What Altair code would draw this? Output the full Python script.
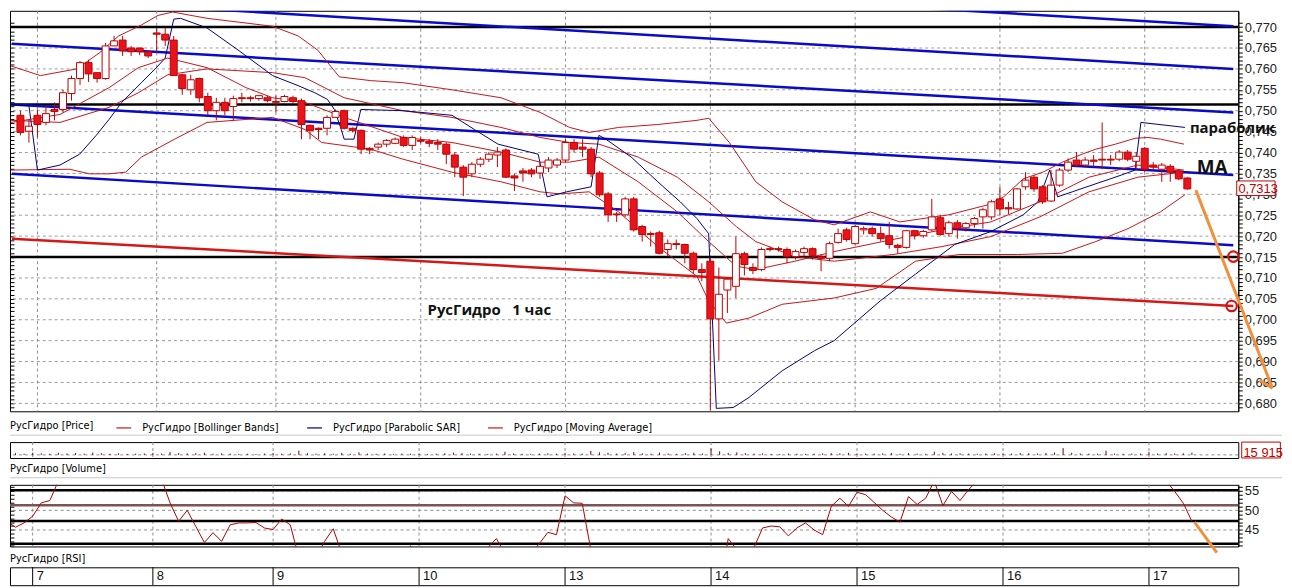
import altair as alt
import pandas as pd

# ---------------- data ----------------
opens = [.7489, .7451, .7489, .7472, .7503, .7503, .7541, .7577, .7615, .7591,
         .7577, .7655, .7669, .7650, .7650, .7641, .7686, .7683, .7669, .7586,
         .7550, .7577, .7534, .7500, .7520, .7510, .7531, .7531, .7529, .7531,
         .7520, .7522, .7531, .7524, .7465, .7458, .7458, .7484, .7500, .7458,
         .7453, .7410, .7413, .7420, .7422, .7436, .7417, .7429, .7427, .7424,
         .7420, .7394, .7365, .7349, .7372, .7384, .7394, .7406, .7344, .7356,
         .7358, .7351, .7363, .7370, .7382, .7424, .7413, .7408, .7351, .7301,
         .7253, .7251, .7289, .7223, .7206, .7208, .7168, .7182, .7180, .7159,
         .7120, .7140, .7002, .7071, .7080, .7158, .7125, .7120, .7170, .7170,
         .7168, .7151, .7161, .7170, .7151, .7147, .7185, .7215, .7182, .7215,
         .7218, .7206, .7201, .7178, .7173, .7213, .7201, .7215, .7244, .7206,
         .7232, .7220, .7230, .7246, .7246, .7289, .7268, .7265, .7318, .7341,
         .7318, .7284, .7322, .7358, .7382, .7370, .7382, .7384, .7384, .7384,
         .7401, .7379, .7410, .7370, .7360, .7367, .7356, .7339]
highs = [.7500, .7479, .7503, .7512, .7520, .7550, .7584, .7619, .7622, .7591,
         .7662, .7679, .7679, .7655, .7650, .7643, .7698, .7698, .7679, .7588,
         .7586, .7579, .7543, .7531, .7531, .7536, .7543, .7536, .7538, .7536,
         .7536, .7538, .7536, .7529, .7467, .7460, .7489, .7503, .7503, .7460,
         .7455, .7413, .7424, .7432, .7436, .7441, .7441, .7436, .7432, .7432,
         .7424, .7401, .7370, .7377, .7389, .7401, .7413, .7410, .7349, .7363,
         .7363, .7377, .7389, .7387, .7432, .7432, .7432, .7413, .7356, .7306,
         .7258, .7294, .7294, .7227, .7211, .7213, .7192, .7192, .7182, .7163,
         .7135, .7149, .7125, .7099, .7199, .7163, .7135, .7173, .7175, .7175,
         .7173, .7168, .7175, .7173, .7156, .7187, .7218, .7220, .7227, .7223,
         .7223, .7223, .7234, .7182, .7215, .7215, .7215, .7289, .7251, .7237,
         .7239, .7234, .7246, .7268, .7287, .7318, .7282, .7315, .7353, .7346,
         .7322, .7358, .7363, .7386, .7401, .7389, .7394, .7472, .7394, .7406,
         .7406, .7401, .7413, .7377, .7375, .7372, .7360, .7341]
lows = [.7441, .7424, .7436, .7465, .7477, .7496, .7524, .7562, .7569, .7567,
        .7574, .7655, .7631, .7631, .7633, .7626, .7638, .7655, .7584, .7538,
        .7538, .7520, .7489, .7477, .7489, .7477, .7520, .7522, .7524, .7520,
        .7496, .7520, .7517, .7432, .7432, .7432, .7441, .7484, .7455, .7448,
        .7396, .7396, .7406, .7413, .7420, .7413, .7406, .7422, .7413, .7406,
        .7372, .7341, .7296, .7341, .7365, .7377, .7365, .7339, .7308, .7330,
        .7341, .7337, .7353, .7363, .7377, .7401, .7389, .7341, .7294, .7234,
        .7234, .7246, .7211, .7187, .7175, .7156, .7151, .7168, .7135, .7111,
        .7092, .6783, .6902, .7016, .7052, .7106, .7109, .7116, .7163, .7163,
        .7135, .7144, .7151, .7144, .7116, .7140, .7182, .7187, .7180, .7204,
        .7199, .7187, .7170, .7159, .7170, .7192, .7196, .7211, .7201, .7199,
        .7194, .7211, .7220, .7218, .7239, .7251, .7253, .7263, .7311, .7306,
        .7277, .7282, .7318, .7353, .7365, .7365, .7365, .7360, .7370, .7379,
        .7379, .7358, .7353, .7358, .7330, .7330, .7334, .7311]
closes = [.7448, .7463, .7467, .7493, .7498, .7543, .7577, .7615, .7588, .7577,
          .7655, .7667, .7643, .7641, .7641, .7631, .7683, .7669, .7584, .7553,
          .7574, .7531, .7500, .7520, .7500, .7529, .7529, .7529, .7536, .7524,
          .7522, .7534, .7522, .7467, .7453, .7455, .7484, .7498, .7458, .7453,
          .7408, .7406, .7420, .7429, .7432, .7417, .7436, .7427, .7422, .7420,
          .7396, .7365, .7341, .7372, .7384, .7396, .7401, .7341, .7339, .7351,
          .7349, .7367, .7382, .7382, .7424, .7408, .7408, .7349, .7299, .7251,
          .7251, .7289, .7215, .7204, .7204, .7159, .7182, .7180, .7159, .7120,
          .7113, .7002, .7061, .7097, .7158, .7132, .7118, .7168, .7168, .7168,
          .7151, .7163, .7170, .7154, .7147, .7182, .7206, .7192, .7223, .7218,
          .7206, .7194, .7180, .7173, .7213, .7201, .7211, .7246, .7204, .7232,
          .7218, .7230, .7242, .7263, .7282, .7265, .7265, .7313, .7334, .7313,
          .7282, .7322, .7358, .7377, .7370, .7382, .7379, .7382, .7382, .7401,
          .7384, .7391, .7360, .7365, .7370, .7353, .7337, .7313]

volumes = [12000, 9000, 15000, 11000, 8000, 14000, 10000, 13000, 9000, 16000,
           12000, 8000, 11000, 7000, 9000, 10000, 14000, 9000, 20000, 13000,
           10000, 12000, 15000, 8000, 11000, 9000, 7000, 8000, 6000, 9000,
           13000, 8000, 10000, 30000, 12000, 9000, 11000, 8000, 14000, 7000,
           18000, 9000, 8000, 10000, 7000, 9000, 8000, 10000, 7000, 8000,
           12000, 16000, 13000, 9000, 8000, 7000, 9000, 22000, 10000, 8000,
           7000, 9000, 11000, 8000, 14000, 10000, 9000, 28000, 18000, 15000,
           9000, 12000, 20000, 11000, 9000, 16000, 10000, 8000, 13000, 15000,
           9000, 45000, 25000, 14000, 18000, 12000, 9000, 11000, 7000, 6000,
           10000, 8000, 7000, 9000, 10000, 12000, 11000, 14000, 10000, 8000,
           9000, 11000, 13000, 8000, 12000, 9000, 8000, 22000, 14000, 10000,
           11000, 9000, 8000, 10000, 12000, 11000, 9000, 13000, 12000, 10000,
           14000, 16000, 48000, 15000, 10000, 9000, 8000, 30000, 9000, 8000,
           10000, 9000, 20000, 9000, 12000, 10000, 11000, 15915]

rsi_first = -1
rsi_values = [47.2, 45.7, 46.8, 48.5, 51.9, 52.5, 57.5, 60, 62, 61, 63, 65, 66, 64, 63, 62, 61, 63, 58, 51.9,
              47.2, 50.0, 45.9, 41.8, 44.3, 42.1, 46.3, 46.8, 46.8, 46.9, 45.5, 45.1, 47.8, 46.3, 38, 37, 38, 42.1, 45.3, 39,
              36, 33, 34, 36, 37, 38, 36, 41.0, 38, 37, 36, 34, 32, 31, 35, 38, 40.5, 42.8, 39, 37,
              38, 39, 41.5, 44.4, 43.8, 53.7, 51.9, 51.8, 40, 34, 30, 31, 34, 30, 29, 29, 27, 30, 30, 28,
              26, 26, 22, 30, 42.8, 40.0, 39.5, 40.5, 45.5, 46.0, 45.8, 43.5, 45.5, 46.8, 45.0, 43.8, 51.0, 53.1, 51.0, 54.6,
              54.0, 52.0, 50.0, 48.3, 47.0, 53.5, 51.5, 53.1, 57.5, 51.2, 54.8, 52.5, 55.3, 57.5, 60, 59, 58, 58, 61, 63,
              58, 56.7, 60, 64, 66, 65, 66, 65, 65, 66, 67, 66, 67, 62, 60, 57.5, 54.8, 51.8, 47.2]

bb_upper = [(-1.1, .7607), (2.35, .7584), (6.6, .7600), (9.25, .7638), (11.55, .7679), (14.2, .7705),
            (16.15, .7728), (17.88, .7736), (21.91, .7721), (29.61, .7702), (32.6, .7679), (34.91, .7645),
            (36.29, .7610), (37.44, .7581), (41.12, .7572), (44.92, .7567), (50.67, .7550), (56.42, .7531),
            (61.02, .7496), (64.47, .7460), (66.77, .7448), (70.23, .7460), (74.83, .7467), (79.43, .7477),
            (80.81, .7482), (83.23, .7424), (85.19, .7365), (86.33, .7330), (89.44, .7282), (93.23, .7239),
            (95.54, .7227), (99.79, .7258), (103.24, .7234), (109.0, .7251), (113.6, .7275), (115.44, .7294),
            (117.74, .7337), (120.04, .7353), (122.34, .7377), (124.64, .7396), (126.25, .7408), (128.56, .7420),
            (130.86, .7434), (132.36, .7436), (133.85, .7432), (136.61, .7420)]
bb_middle = [(-1.1, .7477), (4.65, .7472), (10.4, .7508), (13.85, .7543), (17.3, .7586), (21.91, .7600),
             (29.61, .7591), (33.41, .7579), (38.01, .7531), (44.92, .7500), (50.67, .7484), (56.42, .7460),
             (61.02, .7436), (64.47, .7424), (67.92, .7420), (72.53, .7389), (77.13, .7341), (80.81, .7282),
             (84.04, .7223), (86.33, .7187), (90.93, .7151), (95.54, .7140), (102.44, .7156), (108.19, .7175),
             (113.94, .7199), (119.69, .7246), (125.45, .7306), (131.2, .7341), (136.61, .7353)]
bb_lower = [(-1.1, .7358), (5.8, .7360), (8.1, .7349), (10.4, .7349), (12.36, .7353), (14.2, .7389),
            (18.11, .7432), (21.91, .7472), (29.61, .7484), (33.41, .7455), (35.36, .7424), (41.12, .7408),
            (44.92, .7384), (50.67, .7353), (56.42, .7330), (61.02, .7306), (63.32, .7301), (66.77, .7306),
            (70.23, .7258), (74.83, .7175), (79.43, .7104), (80.81, .7045), (82.88, .6992), (85.53, .7004),
            (89.44, .7037), (95.54, .7052), (100.48, .7075), (105.08, .7140), (110.15, .7156), (117.05, .7156),
            (122.34, .7159), (126.25, .7187), (130.05, .7218), (133.85, .7258), (136.72, .7299)]
moving_avg = [(-1.1, .7472), (4.65, .7491), (10.4, .7555), (13.85, .7603), (17.3, .7626), (21.91, .7603),
              (26.51, .7555), (29.61, .7531), (33.41, .7520), (38.01, .7484), (44.92, .7436), (50.67, .7424),
              (56.42, .7401), (61.02, .7377), (64.47, .7377), (67.92, .7389), (72.53, .7330), (77.13, .7258),
              (80.81, .7187), (84.04, .7128), (86.33, .7120), (90.93, .7140), (95.54, .7163), (102.44, .7192),
              (108.19, .7215), (113.94, .7234), (119.69, .7282), (125.45, .7341), (131.2, .7370), (136.61, .7358)]
sar = [(-1.1, .7515), (1.0, .7512), (2.0, .7358), (4.65, .7370), (6.95, .7396), (8.9, .7441), (10.4, .7479),
       (11.9, .7520), (14.2, .7567), (16.15, .7607), (17.0, .7626), (18.0, .7719), (18.8, .7721), (21.91, .7698),
       (25.7, .7643), (29.61, .7584), (32.6, .7560), (34.56, .7543), (36.05, .7527), (36.86, .7503), (37.67, .7455),
       (38.01, .7432), (39.16, .7432), (39.97, .7503), (44.92, .7500), (50.67, .7489), (53.31, .7455), (56.08, .7420),
       (60.79, .7396), (61.83, .7294), (64.13, .7306), (67.0, .7318), (67.92, .7441), (68.73, .7432), (71.72, .7389),
       (74.83, .7330), (77.47, .7282), (79.43, .7242), (80.8, .7206), (81.7, .6788), (83.69, .6790), (85.53, .6814),
       (89.44, .6878), (93.23, .6926), (95.54, .6950), (100.94, .7045), (105.08, .7109), (109.69, .7180),
       (113.94, .7211), (117.74, .7251), (119.46, .7282), (120.84, .7358), (121.77, .7294), (123.49, .7306),
       (129.25, .7346), (130.86, .7358), (131.55, .7472), (136.72, .7460)]

# trend lines drawn on the chart: (name, start index, start price, end index, end price)
blue_lines = [("A", 21.6, .7743, 142.4, .7600), ("B", 100.0, .7752, 142.4, .7702),
              ("C", -1.0, .7660, 142.4, .7496), ("D", -1.0, .7515, 142.4, .7346),
              ("E", -1.0, .7349, 142.4, .7178)]
red_lines = [("R", -1.0, .7194, 142.4, .7033)]
black_levels = [0.770, 0.7515, 0.715]
price_grid = [0.680, 0.685, 0.690, 0.695, 0.700, 0.705, 0.710, 0.715, 0.720, 0.725,
              0.730, 0.735, 0.740, 0.745, 0.750, 0.755, 0.760, 0.765, 0.770]
price_ticks = [round(0.679 + 0.001 * k, 3) for k in range(93)]

day_labels = ["7", "8", "9", "10", "13", "14", "15", "16", "17"]
day_starts = [2, 16, 30, 47, 64, 81, 98, 115, 132]

rsi_lines_black = [55.1, 47.3, 41.5]
rsi_line_brown = [51.3]
rsi_grid = [45, 50, 55]
rsi_ticks = list(range(41, 57))

last_price = 0.7313
last_volume = 15915

# ---------------- styling ----------------
FONT = "Liberation Sans, Arial, sans-serif"
NARROW = "Liberation Sans Narrow, Arial Narrow, DejaVu Sans Condensed, sans-serif"
BOLD = "Open Sans, Noto Sans, sans-serif"
RED = "#e8141c"
DARKRED = "#c00000"
INDRED = "#c4161c"
NAVY = "#00007a"
BLUE = "#0a0ac8"
ORANGE = "#f0903a"
SEP = "#c8c8c8"

W = 1236
HP = 403
XMIN, XMAX = -0.64, 142.4
XS = alt.Scale(domain=[XMIN, XMAX], nice=False, zero=False)
YS = alt.Scale(domain=[0.6781, 0.7739], nice=False, zero=False)


def X(field="i"):
    return alt.X(f"{field}:Q", scale=XS, axis=None)


def Y(field):
    return alt.Y(f"{field}:Q", scale=YS, axis=None)


candles = pd.DataFrame({"i": list(range(len(opens))), "open": opens, "high": highs,
                        "low": lows, "close": closes})
candles["dir"] = ["up" if c >= o else "down" for o, c in zip(opens, closes)]

ind_rows = []
for part, series, pts in [("upper", "РусГидро [Bollinger Bands]", bb_upper),
                          ("middle", "РусГидро [Bollinger Bands]", bb_middle),
                          ("lower", "РусГидро [Bollinger Bands]", bb_lower),
                          ("sar", "РусГидро [Parabolic SAR]", sar),
                          ("ma", "РусГидро [Moving Average]", moving_avg)]:
    for k, (xi, p) in enumerate(pts):
        ind_rows.append({"part": part, "series": series, "i": xi, "p": p, "order": k})
ind_df = pd.DataFrame(ind_rows)
legend_names = ["РусГидро [Bollinger Bands]", "РусГидро [Parabolic SAR]", "РусГидро [Moving Average]"]


def seg_df(lines):
    rows = []
    for name, x0, y0, x1, y1 in lines:
        rows.append({"name": name, "i": x0, "p": y0})
        rows.append({"name": name, "i": x1, "p": y1})
    return pd.DataFrame(rows)


left_axis = alt.Axis(orient="left", values=price_ticks, labels=False, tickSize=4, domain=False,
                     offset=-4, grid=False, title=None, tickColor="black")
right_axis = alt.Axis(orient="right", values=price_ticks, tickSize=4, grid=False, title=None,
                      labelExpr="abs(datum.value*200 - round(datum.value*200)) < 0.01 ? "
                                "replace(format(datum.value, '.3f'), '.', ',') : ''",
                      labelFont=FONT, labelFontSize=13, labelColor="#222", labelOverlap=False,
                      labelPadding=2, domainColor="black", tickColor="black")

grid_h = alt.Chart(pd.DataFrame({"p": price_grid})).mark_rule(
    color="#9c9c9c", strokeDash=[3, 3], strokeWidth=1).encode(y=Y("p"))
grid_v = alt.Chart(pd.DataFrame({"i": day_starts})).mark_rule(
    color="#8c8c8c", strokeDash=[3, 3], strokeWidth=1).encode(x=X("i"))
hlines = alt.Chart(pd.DataFrame({"p": black_levels})).mark_rule(
    color="black", strokeWidth=2.5).encode(y=Y("p"))
blue_tr = alt.Chart(seg_df(blue_lines)).mark_line(color=BLUE, strokeWidth=2.5, clip=True).encode(
    x=X("i"), y=Y("p"), detail="name:N")
red_tr = alt.Chart(seg_df(red_lines)).mark_line(color="#d41818", strokeWidth=2.5, clip=True).encode(
    x=X("i"), y=Y("p"), detail="name:N")

indicators = alt.Chart(ind_df).mark_line(strokeWidth=1, clip=True).encode(
    x=X("i"), y=Y("p"), detail="part:N", order="order:Q",
    color=alt.Color("series:N", scale=alt.Scale(domain=legend_names, range=[INDRED, NAVY, INDRED]),
                    legend=alt.Legend(title="РусГидро [Price]", titleOrient="left", titleFont=NARROW,
                                      titleFontSize=11, titleFontWeight="normal", titleColor="black",
                                      titlePadding=22, orient="bottom", direction="horizontal",
                                      symbolType="stroke", symbolSize=225, symbolStrokeWidth=1.2,
                                      labelFont=NARROW, labelFontSize=11, labelColor="black",
                                      labelOffset=10, columnPadding=25, offset=8, padding=0,
                                      labelLimit=0)))

wicks = alt.Chart(candles).mark_rule(color=DARKRED, strokeWidth=1).encode(
    x=X("i"), y=alt.Y("low:Q", scale=YS, axis=left_axis), y2="high:Q")
bodies = alt.Chart(candles).mark_bar(size=7, stroke=DARKRED, strokeWidth=1).encode(
    x=X("i"), y=alt.Y("open:Q", scale=YS, axis=right_axis), y2="close:Q",
    fill=alt.Fill("dir:N", scale=alt.Scale(domain=["up", "down"], range=["white", RED]), legend=None))

NB = "\u00a0"
notes = pd.DataFrame({"i": [137.3, 138.1, 47.8], "p": [0.7458, 0.7363, 0.7023],
                      "t": ["параболик", "MA", f"РусГидро{NB}{NB}{NB}1 час"], "s": [15, 19, 15]})
note_txt = alt.Chart(notes).mark_text(align="left", baseline="middle", font=BOLD, fontWeight="bold",
                                      color="#111").encode(
    x=X("i"), y=Y("p"), text="t:N", size=alt.Size("s:Q", scale=None, legend=None))

tag_box = alt.Chart(pd.DataFrame({"i": [142.8], "i2": [147.3], "p": [0.7332], "p2": [0.7297]})).mark_rect(
    fill="white", stroke="#c00000", strokeWidth=1).encode(x=X("i"), x2="i2:Q", y=Y("p"), y2="p2:Q")
tag_txt = alt.Chart(pd.DataFrame({"i": [143.0], "p": [last_price],
                                  "t": [f"{last_price:.4f}".replace(".", ",")]})).mark_text(
    align="left", baseline="middle", font=FONT, fontSize=13, color="#c00000").encode(
    x=X("i"), y=Y("p"), text="t:N")

circles = alt.Chart(pd.DataFrame({"i": [142.4, 142.2], "p": [0.7151, 0.7033]})).mark_point(
    shape="circle", size=110, filled=False, stroke="#e01010", strokeWidth=2.2, opacity=1).encode(
    x=X("i"), y=Y("p"))

arrow = alt.Chart(pd.DataFrame({"seg": ["a", "a", "b", "b"], "i": [138.0, 147.0, 145.5, 147.0],
                                "p": [0.7310, 0.6836, 0.6855, 0.6836]})).mark_line(
    color=ORANGE, strokeWidth=3).encode(x=X("i"), y=Y("p"), detail="seg:N")

price = alt.layer(grid_h, grid_v, hlines, blue_tr, red_tr, indicators, wicks, bodies,
                  arrow, circles, tag_box, tag_txt, note_txt).properties(width=W, height=HP)

# ---------------- volume panel ----------------
VS = alt.Scale(domain=[-22000, 90000], nice=False, zero=False)
vol_df = pd.DataFrame({"i": list(range(len(volumes))), "v": volumes, "z": [0] * len(volumes)})
vol_grid_v = alt.Chart(pd.DataFrame({"i": day_starts})).mark_rule(
    color="#8c8c8c", strokeDash=[3, 3]).encode(x=X("i"))
vol_base = alt.Chart(pd.DataFrame({"v": [0]})).mark_rule(color="#8c8c8c", strokeDash=[3, 3]).encode(
    y=alt.Y("v:Q", scale=VS, axis=alt.Axis(orient="left", values=[45000], labels=False, tickSize=4,
                                            domain=False, offset=-4, grid=False, title=None,
                                            tickColor="black")))
vol_sep = alt.Chart(pd.DataFrame({"i": [XMIN], "i2": [147.5], "v": [139000]})).mark_rule(
    color=SEP, strokeWidth=1).encode(x=X("i"), x2="i2:Q", y=alt.Y("v:Q", scale=VS, axis=None))
vol_bars = alt.Chart(vol_df).mark_rule(color="#7a0000", strokeWidth=1).encode(
    x=X("i"), y=alt.Y("v:Q", scale=VS, axis=None), y2="z:Q")
vol_box = alt.Chart(pd.DataFrame({"i": [142.8], "i2": [147.3], "v": [90000], "v2": [-22000]})).mark_rect(
    fill="white", stroke="#c00000", strokeWidth=1).encode(x=X("i"), x2="i2:Q",
                                                         y=alt.Y("v:Q", scale=VS, axis=None), y2="v2:Q")
vol_txt = alt.Chart(pd.DataFrame({"i": [143.0], "v": [15000],
                                  "t": [f"{last_volume:,}".replace(",", " ")]})).mark_text(
    align="left", baseline="middle", font=FONT, fontSize=13, color="#c00000").encode(
    x=X("i"), y=alt.Y("v:Q", scale=VS, axis=None), text="t:N")
volume = alt.layer(vol_sep, vol_grid_v, vol_base, vol_bars, vol_box, vol_txt).properties(
    width=W, height=16,
    title=alt.TitleParams("РусГидро [Volume]", orient="bottom", anchor="start", frame="group",
                          font=NARROW, fontSize=11, fontWeight="normal", color="black", offset=4,
                          dy=-1))

# ---------------- RSI panel ----------------
RS = alt.Scale(domain=[40.8, 56.5], nice=False, zero=False)
rsi_df = pd.DataFrame({"i": list(range(rsi_first, rsi_first + len(rsi_values))), "r": rsi_values})
rsi_grid_v = alt.Chart(pd.DataFrame({"i": day_starts})).mark_rule(
    color="#8c8c8c", strokeDash=[3, 3]).encode(x=X("i"))
rsi_grid_h = alt.Chart(pd.DataFrame({"r": rsi_grid})).mark_rule(
    color="#8c8c8c", strokeDash=[3, 3]).encode(
    y=alt.Y("r:Q", scale=RS, axis=alt.Axis(orient="right", values=rsi_ticks, tickSize=4, grid=False,
                                           title=None, labelExpr="datum.value % 5 == 0 ? datum.value : ''",
                                           labelFont=FONT, labelFontSize=13, labelColor="#222",
                                           labelOverlap=False, labelPadding=2, domainColor="black",
                                           tickColor="black")))
rsi_black = alt.Chart(pd.DataFrame({"r": rsi_lines_black})).mark_rule(color="black", strokeWidth=2.5).encode(
    y=alt.Y("r:Q", scale=RS, axis=alt.Axis(orient="left", values=rsi_ticks, labels=False, tickSize=4,
                                           domain=False, offset=-4, grid=False, title=None,
                                           tickColor="black")))
rsi_brown = alt.Chart(pd.DataFrame({"r": rsi_line_brown})).mark_rule(color="#7d5353", strokeWidth=2.5).encode(
    y=alt.Y("r:Q", scale=RS, axis=None))
rsi_sep = alt.Chart(pd.DataFrame({"i": [XMIN], "i2": [147.5], "r": [58.3]})).mark_rule(
    color=SEP, strokeWidth=1).encode(x=X("i"), x2="i2:Q", y=alt.Y("r:Q", scale=RS, axis=None))
rsi_line = alt.Chart(rsi_df).mark_line(color="#b00000", strokeWidth=1, clip=True).encode(
    x=X("i"), y=alt.Y("r:Q", scale=RS, axis=None))
rsi_orange = alt.Chart(pd.DataFrame({"i": [137.3, 139.9], "r": [47.0, 39.2]})).mark_line(
    color=ORANGE, strokeWidth=3).encode(x=X("i"), y=alt.Y("r:Q", scale=RS, axis=None))
rsi = alt.layer(rsi_sep, rsi_grid_v, rsi_grid_h, rsi_black, rsi_brown, rsi_line, rsi_orange).properties(
    width=W, height=62,
    title=alt.TitleParams("РусГидро [RSI]", orient="bottom", anchor="start", frame="group",
                          font=NARROW, fontSize=11, fontWeight="normal", color="black", offset=4,
                          dy=-10))

# ---------------- date strip ----------------
day_df = pd.DataFrame({"i": day_starts, "label": day_labels})
dates = alt.layer(
    alt.Chart(day_df).mark_rule(color="black", strokeWidth=1).encode(x=X("i")),
    alt.Chart(day_df).mark_text(align="left", baseline="middle", dx=4, font=FONT, fontSize=13,
                                color="#111").encode(x=X("i"), text="label:N"),
).properties(width=W, height=18)

lower = alt.vconcat(volume, alt.vconcat(rsi, dates, spacing=21, bounds="flush"),
                    spacing=27, bounds="flush")
chart = alt.vconcat(price, lower, spacing=31, bounds="flush").properties(padding=0).resolve_scale(
    color="independent", fill="independent").resolve_legend(color="independent", fill="independent"
).configure_view(stroke="black", strokeWidth=1)

chart.save("out.html", embed_options={"renderer": "svg", "actions": False})
